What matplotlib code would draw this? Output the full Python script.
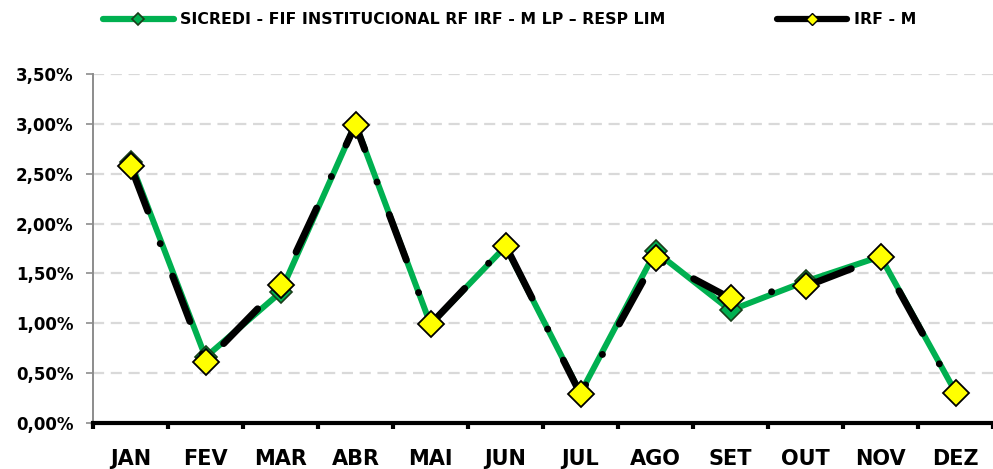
import matplotlib.pyplot as plt
from matplotlib.lines import Line2D
from matplotlib.ticker import FuncFormatter, FixedLocator

plt.rcParams['font.family'] = ['DejaVu Sans']
plt.rcParams['font.weight'] = 'bold'

months = ['JAN', 'FEV', 'MAR', 'ABR', 'MAI', 'JUN', 'JUL', 'AGO', 'SET', 'OUT', 'NOV', 'DEZ']
fund_label = 'SICREDI - FIF INSTITUCIONAL RF IRF - M LP – RESP LIM'
bench_label = 'IRF - M'
# monthly returns in %
fund = [2.62, 0.66, 1.31, 3.00, 0.99, 1.77, 0.30, 1.72, 1.13, 1.42, 1.67, 0.31]
irfm = [2.58, 0.61, 1.38, 2.99, 0.99, 1.78, 0.29, 1.65, 1.25, 1.37, 1.66, 0.30]

GREEN = '#00B050'

fig = plt.figure(figsize=(9.93, 4.69), dpi=100)
ax = fig.add_axes([93 / 993, 46 / 469, 900 / 993, 349 / 469])

x = list(range(len(months)))
ax.plot(x, fund, color=GREEN, linewidth=4.3, solid_joinstyle='miter', zorder=3,
        marker='D', markersize=11.5, markerfacecolor=GREEN, markeredgecolor='#1a3d1a',
        markeredgewidth=1.2)
ax.plot(x, irfm, color='black', linewidth=5, zorder=4,
        linestyle=(0, (7, 5, 0.01, 5)), dash_capstyle='round',
        marker='D', markersize=13, markerfacecolor='#FFFF00', markeredgecolor='black',
        markeredgewidth=1.3)

ax.set_xlim(-0.5, len(months) - 0.5)
ax.set_ylim(0, 3.5)
ax.set_yticks([i * 0.5 for i in range(8)])
ax.yaxis.set_major_formatter(FuncFormatter(lambda v, p: f'{v:.2f}%'.replace('.', ',')))
ax.set_xticks(x)
ax.set_xticklabels(months)
ax.xaxis.set_minor_locator(FixedLocator([i + 0.5 for i in range(-1, len(months))]))

ax.tick_params(axis='x', which='major', length=0, pad=19, labelsize=15)
ax.tick_params(axis='x', which='minor', length=4, width=3, color='black', direction='out')
ax.tick_params(axis='y', length=5, width=1.2, color='#8c8c8c', labelsize=12, pad=9)

for yv in [i * 0.5 for i in range(1, 8)]:
    ax.axhline(yv, color='#d9d9d9', linewidth=1.6, linestyle=(0, (5, 3)), zorder=1)

ax.spines['top'].set_visible(False)
ax.spines['right'].set_visible(False)
ax.spines['left'].set_color('#8c8c8c')
ax.spines['left'].set_linewidth(1.4)
ax.spines['bottom'].set_color('black')
ax.spines['bottom'].set_linewidth(3)
ax.spines['bottom'].set_zorder(5)

h1 = Line2D([], [], color=GREEN, linewidth=4.5, solid_capstyle='round', marker='D',
            markersize=6, markerfacecolor=GREEN, markeredgecolor='#1a3d1a', markeredgewidth=1.2)
h2 = Line2D([], [], color='black', linewidth=4.5, solid_capstyle='round', marker='D',
            markersize=6, markerfacecolor='#FFFF00', markeredgecolor='black', markeredgewidth=1)
fig.legend([h1, h2], [fund_label, bench_label], loc='center left',
           bbox_to_anchor=(103 / 993, 1 - 20 / 469), ncol=2, frameon=False,
           fontsize=11.3, handlelength=4.5, handletextpad=0.4, columnspacing=7.1,
           borderaxespad=0, borderpad=0)

fig.savefig('out.png', dpi=100)
